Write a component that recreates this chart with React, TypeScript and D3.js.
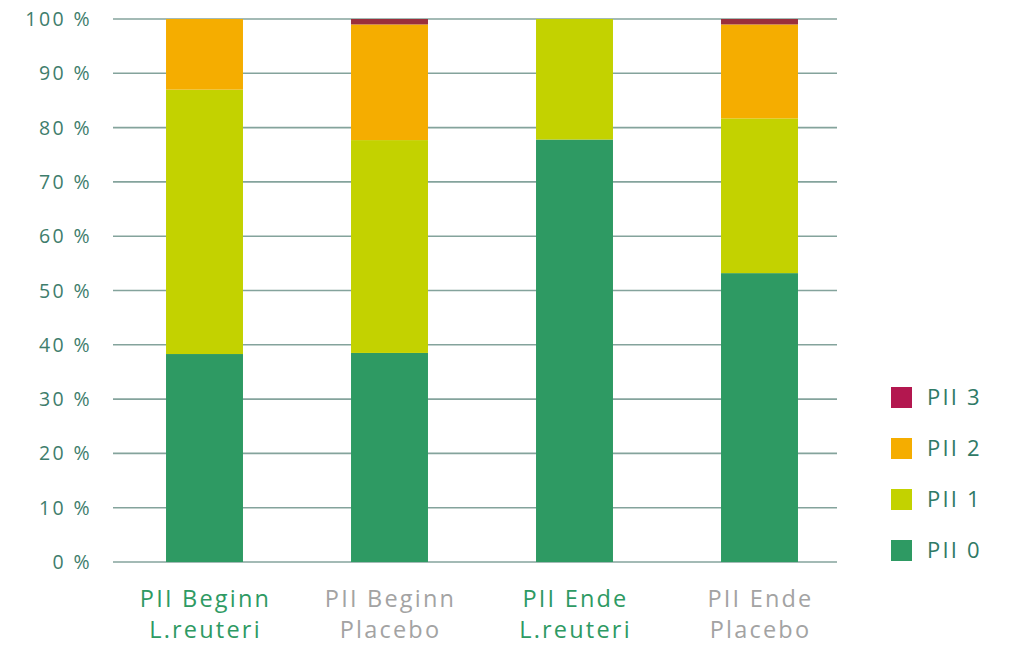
import React from "react";
import * as d3 from "d3";

const categories = ["PII Beginn L.reuteri", "PII Beginn Placebo", "PII Ende L.reuteri", "PII Ende Placebo"];
const categoryLines = [["PII Beginn", "L.reuteri"], ["PII Beginn", "Placebo"], ["PII Ende", "L.reuteri"], ["PII Ende", "Placebo"]];
const seriesNames = ["PII 0", "PII 1", "PII 2", "PII 3"];
const pii0 = [38.3, 38.5, 77.8, 53.2];
const pii1 = [48.7, 39.2, 22.2, 28.5];
const pii2 = [13.0, 21.3, 0, 17.3];
const pii3 = [0, 1.0, 0, 1.0];
const yTicks = [0, 10, 20, 30, 40, 50, 60, 70, 80, 90, 100];
const seriesColors = ["#2e9a63", "#c3d200", "#f5ad00", "#b3174f"];
const barTopColor = "#9a2f3c";

const W = 1015;
const H = 647;

export default function App() {
  const y = d3.scaleLinear().domain([0, 100]).range([562, 19]);
  const x = d3
    .scaleBand<string>()
    .domain(categories)
    .range([112, 852])
    .paddingInner(0.584)
    .paddingOuter(0.292);

  const rows = categories.map((c, i) => ({
    cat: c,
    "PII 0": pii0[i],
    "PII 1": pii1[i],
    "PII 2": pii2[i],
    "PII 3": pii3[i],
  }));
  const stacked = d3.stack<any>().keys(seriesNames)(rows);

  const labelColors = ["#2e9a63", "#a3a3a3", "#2e9a63", "#a3a3a3"];
  const font = "'Open Sans', 'DejaVu Sans', sans-serif";

  return (
    <svg width={W} height={H} style={{ position: "absolute", left: 0, top: 0, background: "#fff" }}>
      {yTicks.map((t) => (
        <g key={t}>
          <line x1={113} x2={837} y1={y(t)} y2={y(t)} stroke="#84a39c" strokeWidth={1.6} />
          <text
            x={92}
            y={y(t)}
            dy="0.36em"
            textAnchor="end"
            fontFamily={font}
            fontSize={19.5}
            fontWeight={500}
            letterSpacing={2.4}
            fill="#3e7d6c"
          >
            {`${t} %`}
          </text>
        </g>
      ))}
      {stacked.map((s, si) => (
        <g key={s.key}>
          {s.map((d, i) =>
            d[1] - d[0] > 0 ? (
              <rect
                key={i}
                x={x(categories[i])}
                width={x.bandwidth()}
                y={y(d[1])}
                height={y(d[0]) - y(d[1])}
                fill={si === 3 ? barTopColor : seriesColors[si]}
              />
            ) : null
          )}
        </g>
      ))}
      {categoryLines.map((lines, i) => {
        const cx = (x(categories[i]) as number) + x.bandwidth() / 2 + 1;
        return (
          <text
            key={i}
            x={cx}
            y={607}
            textAnchor="middle"
            fontFamily={font}
            fontSize={23.5}
            fontWeight={500}
            letterSpacing={2.2}
            fill={labelColors[i]}
          >
            <tspan x={cx}>{lines[0]}</tspan>
            <tspan x={cx} dy={31}>{lines[1]}</tspan>
          </text>
        );
      })}
      {seriesNames
        .slice()
        .reverse()
        .map((name, k) => {
          const si = seriesNames.length - 1 - k;
          const top = 387 + k * 51;
          return (
            <g key={name}>
              <rect x={891} y={top} width={21} height={21} fill={seriesColors[si]} />
              <text
                x={927}
                y={top + 10.5}
                dy="0.36em"
                fontFamily={font}
                fontSize={22}
                fontWeight={500}
                letterSpacing={2.2}
                fill="#2f7a66"
              >
                {name}
              </text>
            </g>
          );
        })}
    </svg>
  );
}
